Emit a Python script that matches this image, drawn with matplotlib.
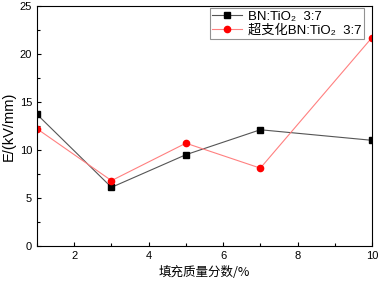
import matplotlib
matplotlib.use("Agg")
import matplotlib.pyplot as plt
from matplotlib.ticker import MultipleLocator

plt.rcParams['font.family'] = ['Liberation Sans', 'Noto Sans CJK SC', 'DejaVu Sans']

x = [1, 3, 5, 7, 10]
bn = [13.7, 6.1, 9.5, 12.1, 11.0]
hb = [12.2, 6.8, 10.7, 8.1, 21.7]
labels = ['BN:TiO₂  3:7', '超支化BN:TiO₂  3:7']

fig = plt.figure(figsize=(3.78, 2.82), dpi=100)
ax = fig.add_axes([0.098, 0.128, 0.886, 0.851])
ax.plot(x, bn, color='#555555', lw=0.8, marker='s', ms=4, mfc='black', mec='black', label=labels[0])
ax.plot(x, hb, color='#ff8080', lw=0.8, marker='o', ms=4.5, mfc='red', mec='red', label=labels[1])
ax.set_xlim(1, 10)
ax.set_ylim(0, 25)
ax.xaxis.set_major_locator(MultipleLocator(2))
ax.xaxis.set_minor_locator(MultipleLocator(1))
ax.yaxis.set_major_locator(MultipleLocator(5))
ax.yaxis.set_minor_locator(MultipleLocator(2.5))
ax.tick_params(which='both', direction='in', labelsize=8, width=0.8)
ax.tick_params(which='major', length=3)
ax.tick_params(which='minor', length=2)
for s in ax.spines.values():
    s.set_linewidth(0.8)
ax.set_xlabel('填充质量分数/%', fontsize=9, family=['Noto Sans CJK SC'])
ax.set_ylabel('E/(kV/mm)', fontsize=10.5, labelpad=3)
leg = ax.legend(loc='upper right', fontsize=9.5, fancybox=False, edgecolor='#777777',
                bbox_to_anchor=(0.977, 0.992), borderaxespad=0.0, handlelength=2.2,
                borderpad=0.2, labelspacing=0.1, handletextpad=0.5)
leg.get_frame().set_linewidth(0.8)
fig.savefig('out.png', dpi=100)
